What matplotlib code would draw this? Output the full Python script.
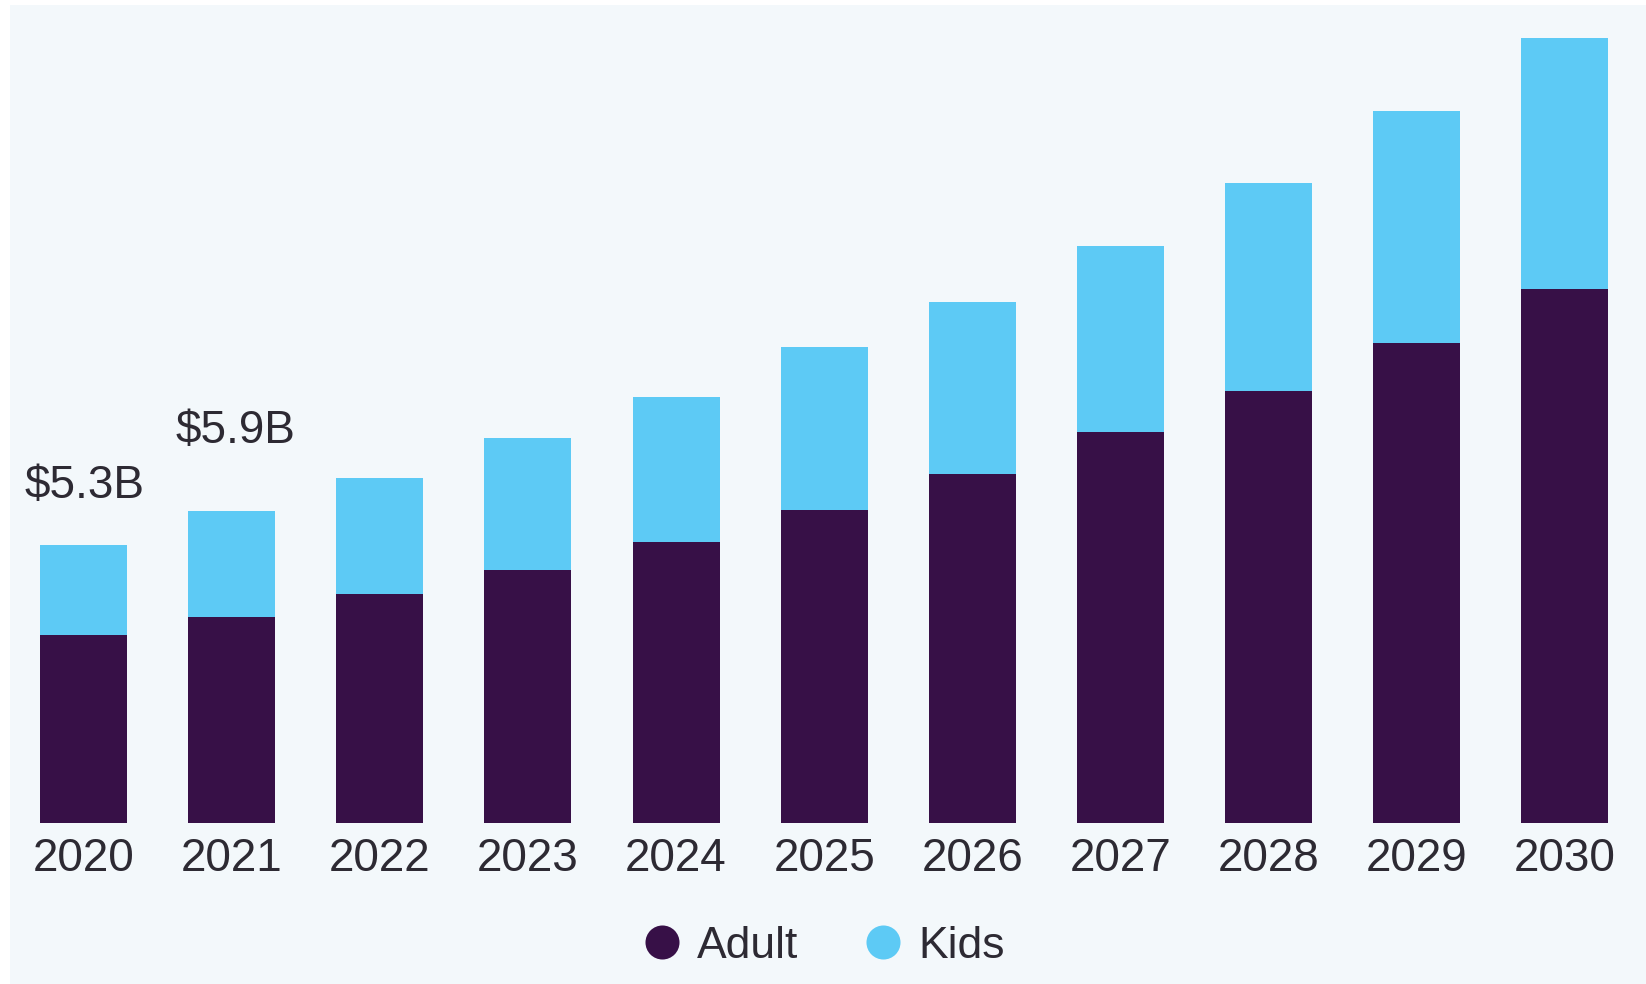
import numpy as np
import matplotlib.pyplot as plt
from matplotlib.patches import Rectangle
from matplotlib.lines import Line2D

# market size by segment, USD billion
years = ['2020', '2021', '2022', '2023', '2024', '2025',
         '2026', '2027', '2028', '2029', '2030']
adult = [3.58, 3.92, 4.36, 4.82, 5.36, 5.96, 6.64, 7.44, 8.24, 9.14, 10.18]
kids = [1.72, 2.02, 2.22, 2.52, 2.76, 3.10, 3.28, 3.56, 3.96, 4.42, 4.78]
total_labels = ['$5.3B', '$5.9B']

adult_color = '#371047'
kids_color = '#5dcaf5'
text_color = '#2d2a33'

plt.rcParams['font.family'] = ['Liberation Sans', 'DejaVu Sans']

fig = plt.figure(figsize=(16.46, 9.84), dpi=100)
fig.patch.set_facecolor('white')

# light panel behind the chart
fig.patches.append(Rectangle((10 / 1646, 0), 1 - 10 / 1646, 979 / 984,
                             transform=fig.transFigure, facecolor='#f3f8fb',
                             edgecolor='none', zorder=-5))

ax = fig.add_axes([0, 161 / 984, 1, 823 / 984])
ax.set_facecolor('none')

x = np.arange(len(years))
width = 0.587

ax.bar(x, adult, width, color=adult_color, label='Adult')
ax.bar(x, kids, width, bottom=adult, color=kids_color, label='Kids')

# totals written above the first two bars
totals = np.array(adult) + np.array(kids)
offsets = [(1, 34), (3, 49)]
for i, lab in enumerate(total_labels):
    ax.annotate(lab, (x[i], totals[i]), xytext=offsets[i],
                textcoords='offset points', ha='center', va='baseline',
                fontsize=33, color=text_color)

ax.set_xlim(-0.5636, 10.547)
ax.set_ylim(0, 15.68)
ax.set_xticks(x, years)
ax.set_yticks([])
ax.tick_params(axis='x', length=0, pad=10, labelsize=33, labelcolor=text_color)
for s in ax.spines.values():
    s.set_visible(False)

handles = [Line2D([], [], marker='o', linestyle='none', markersize=24.5,
                  markerfacecolor=c, markeredgecolor='none') for c in (adult_color, kids_color)]
fig.legend(handles, ['Adult', 'Kids'], loc='center', bbox_to_anchor=(0.4995, 0.0386),
           ncol=2, frameon=False, fontsize=32, handlelength=1.0,
           handletextpad=0.3, columnspacing=1.4, labelcolor=text_color)

plt.savefig('out.png', dpi=100, facecolor=fig.get_facecolor())
